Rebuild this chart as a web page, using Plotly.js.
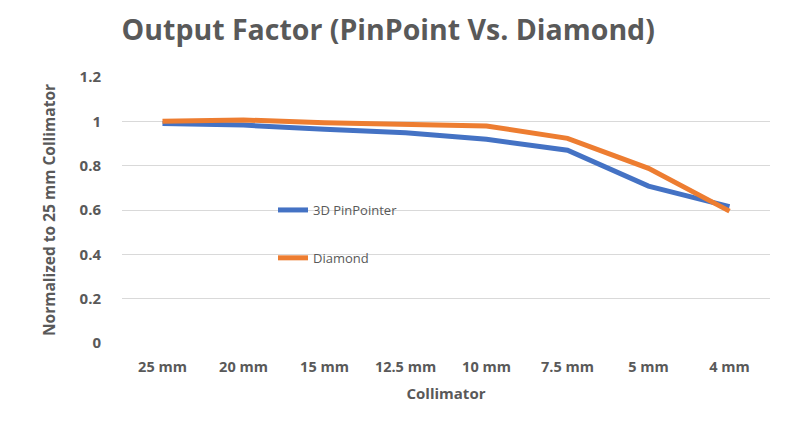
<!DOCTYPE html>
<html>
<head>
<meta charset="utf-8">
<script src="https://cdn.plot.ly/plotly-3.0.1.min.js"></script>
<style>
  html, body { margin: 0; padding: 0; background: #fff; }
  #chart { width: 800px; height: 423px; }
</style>
</head>
<body>
<div id="chart"></div>
<script>
// DATA
const collimators = ['25 mm', '20 mm', '15 mm', '12.5 mm', '10 mm', '7.5 mm', '5 mm', '4 mm']
const pinPointer = [0.99, 0.983, 0.964, 0.949, 0.919, 0.870, 0.708, 0.615]
const diamond = [1.0, 1.006, 0.994, 0.988, 0.979, 0.923, 0.788, 0.595]

const grey = '#595959'
const font = 'Open Sans, Liberation Sans, sans-serif'

const pinData = {
  x: collimators,
  y: pinPointer,
  type: 'scatter',
  mode: 'lines',
  name: '3D PinPointer',
  line: { color: '#4472C4', width: 5 },
  legend: 'legend',
}

const diamondData = {
  x: collimators,
  y: diamond,
  type: 'scatter',
  mode: 'lines',
  name: 'Diamond',
  line: { color: '#ED7D31', width: 5 },
  legend: 'legend2',
}

const legendStyle = {
  font: { family: font, size: 13, color: grey },
  bgcolor: 'rgba(0,0,0,0)',
  borderwidth: 0,
  xanchor: 'left',
  yanchor: 'middle',
}

const layout = {
  width: 800,
  height: 423,
  margin: { l: 122, r: 30, t: 77, b: 80 },
  paper_bgcolor: '#fff',
  plot_bgcolor: '#fff',
  title: {
    text: '<b>Output Factor (PinPoint Vs. Diamond)</b>',
    font: { family: font, size: 28.5, color: grey },
    x: 0.152,
    xanchor: 'left',
    y: 0.93,
    yanchor: 'middle',
  },
  xaxis: {
    title: { text: '<b>Collimator</b>', font: { family: font, size: 15, color: grey }, standoff: 13 },
    tickfont: { family: font, size: 14.5, color: grey, weight: 'bold' },
    range: [-0.5, 7.5],
    showgrid: false,
    showline: false,
    ticks: '',
    ticklabelstandoff: 13,
    fixedrange: true,
  },
  yaxis: {
    title: { text: '<b>Normalized to 25 mm Collimator</b>', font: { family: font, size: 15.5, color: grey }, standoff: 20 },
    tickfont: { family: font, size: 15, color: grey, weight: 'bold' },
    range: [0, 1.2],
    dtick: 0.2,
    showgrid: true,
    gridcolor: '#d9d9d9',
    gridwidth: 1,
    zeroline: false,
    showline: false,
    ticks: '',
    ticklabelstandoff: 20,
    fixedrange: true,
  },
  showlegend: true,
  legend: Object.assign({ x: 0.233, y: 0.5 }, legendStyle),
  legend2: Object.assign({ x: 0.233, y: 0.32 }, legendStyle),
}

Plotly.newPlot('chart', [pinData, diamondData], layout, { displayModeBar: false, staticPlot: true })
</script>
</body>
</html>
